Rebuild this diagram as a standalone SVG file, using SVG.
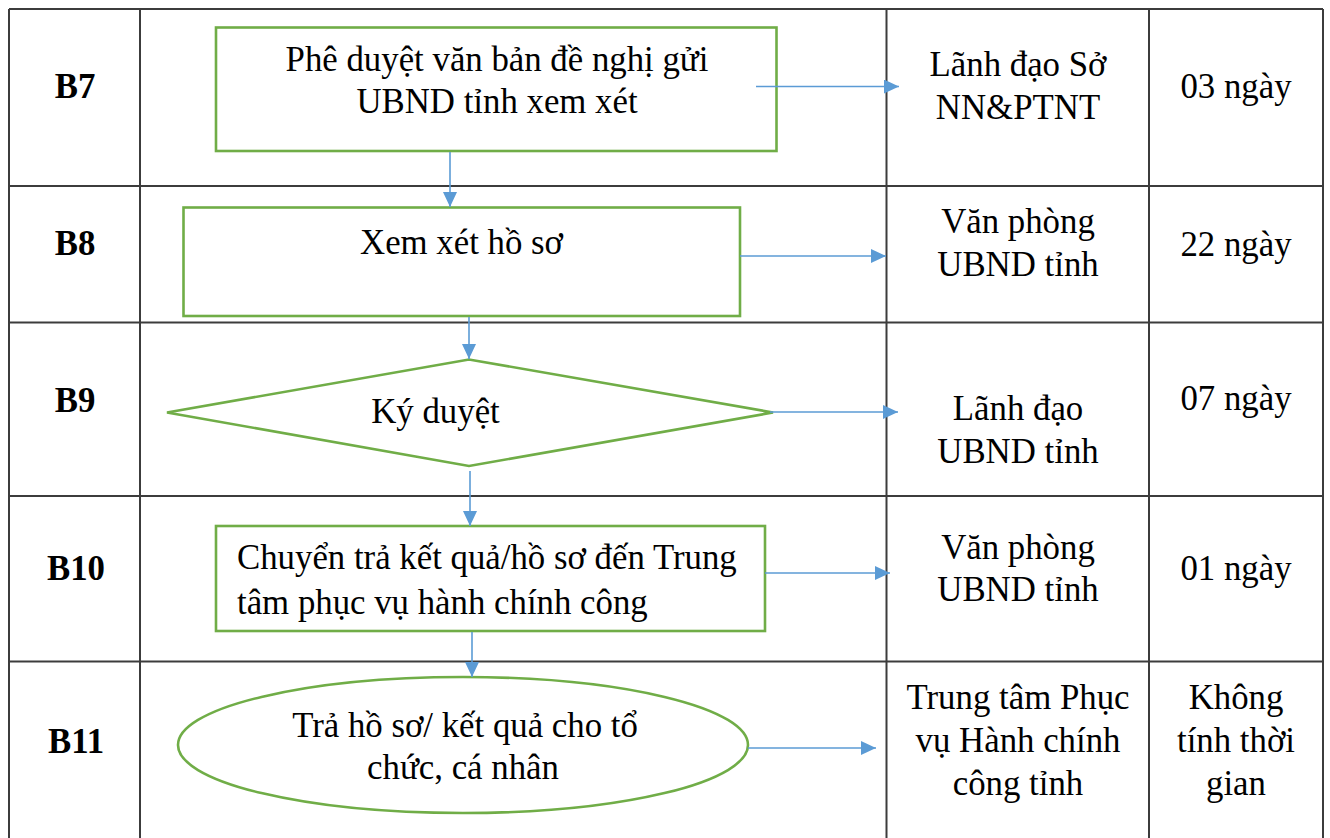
<svg xmlns="http://www.w3.org/2000/svg" width="1330" height="838" viewBox="0 0 1330 838">
<style>
.grid{stroke:#3c3c3c;stroke-width:2;fill:none}
.shape{fill:#ffffff;stroke:#70AD47;stroke-width:2.6}
.conn{stroke:#5B9BD5;stroke-width:1.6;fill:none;marker-end:url(#arr)}
text{font-family:"Liberation Serif","Times New Roman",serif;font-size:34.8px;fill:#000;text-anchor:middle}
.b{font-weight:bold}
</style>
<defs>
<marker id="arr" markerUnits="userSpaceOnUse" markerWidth="16" markerHeight="16" refX="15" refY="7" orient="auto">
<path d="M0,0 L15,7 L0,14 z" fill="#5B9BD5"/>
</marker>
</defs>
<rect x="0" y="0" width="1330" height="838" fill="#ffffff"/>
<g id="table">
<path class="grid" d="M9,9 H1323 M9,186 H1323 M9,322.5 H1323 M9,496 H1323 M9,661.5 H1323 M9,9 V838 M140,9 V838 M886.5,9 V838 M1149,9 V838 M1323,9 V838"/>
</g>
<g id="labels">
<text class="b" x="75" y="98">B7</text>
<text class="b" x="75" y="255">B8</text>
<text class="b" x="75" y="412">B9</text>
<text class="b" x="76" y="580">B10</text>
<text class="b" x="76" y="753">B11</text>
<text x="1018" y="76">Lãnh đạo Sở</text>
<text x="1018" y="119">NN&amp;PTNT</text>
<text x="1018" y="233">Văn phòng</text>
<text x="1018" y="276">UBND tỉnh</text>
<text x="1018" y="420">Lãnh đạo</text>
<text x="1018" y="463">UBND tỉnh</text>
<text x="1018" y="559">Văn phòng</text>
<text x="1018" y="601">UBND tỉnh</text>
<text x="1018" y="709">Trung tâm Phục</text>
<text x="1018" y="752">vụ Hành chính</text>
<text x="1018" y="795">công tỉnh</text>
<text x="1236" y="98">03 ngày</text>
<text x="1236" y="256">22 ngày</text>
<text x="1236" y="410">07 ngày</text>
<text x="1236" y="580">01 ngày</text>
<text x="1236" y="709">Không</text>
<text x="1236" y="752">tính thời</text>
<text x="1236" y="795">gian</text>
</g>
<g id="n7">
<rect class="shape" x="216" y="27.5" width="560.5" height="123.5"/>
<text x="497" y="71">Phê duyệt văn bản đề nghị gửi</text>
<text x="497" y="113">UBND tỉnh xem xét</text>
</g>
<g id="n8">
<rect class="shape" x="183.5" y="207.5" width="556.5" height="108.5"/>
<text x="461.5" y="254">Xem xét hồ sơ</text>
</g>
<g id="n9">
<polygon class="shape" points="167,412.5 469,359.5 773,412.5 469,466"/>
<text x="435.5" y="423">Ký duyệt</text>
</g>
<g id="n10">
<rect class="shape" x="216" y="526" width="549" height="105"/>
<text x="237" y="569" style="text-anchor:start">Chuyển trả kết quả/hồ sơ đến Trung</text>
<text x="237" y="614" style="text-anchor:start">tâm phục vụ hành chính công</text>
</g>
<g id="n11">
<ellipse class="shape" cx="463" cy="745" rx="285" ry="68"/>
<text x="465" y="737">Trả hồ sơ/ kết quả cho tổ</text>
<text x="463" y="779">chức, cá nhân</text>
</g>
<g id="connectors">
<line class="conn" x1="756" y1="86.5" x2="899" y2="86.5"/>
<line class="conn" x1="740" y1="256" x2="886" y2="256"/>
<line class="conn" x1="770" y1="412" x2="898" y2="412"/>
<line class="conn" x1="765" y1="573" x2="890" y2="573"/>
<line class="conn" x1="748" y1="748" x2="876" y2="748"/>
<line class="conn" x1="450" y1="152" x2="450" y2="207"/>
<line class="conn" x1="469" y1="317" x2="469" y2="359"/>
<line class="conn" x1="470" y1="471" x2="470" y2="526"/>
<line class="conn" x1="472" y1="632" x2="472" y2="677"/>
</g>
</svg>
